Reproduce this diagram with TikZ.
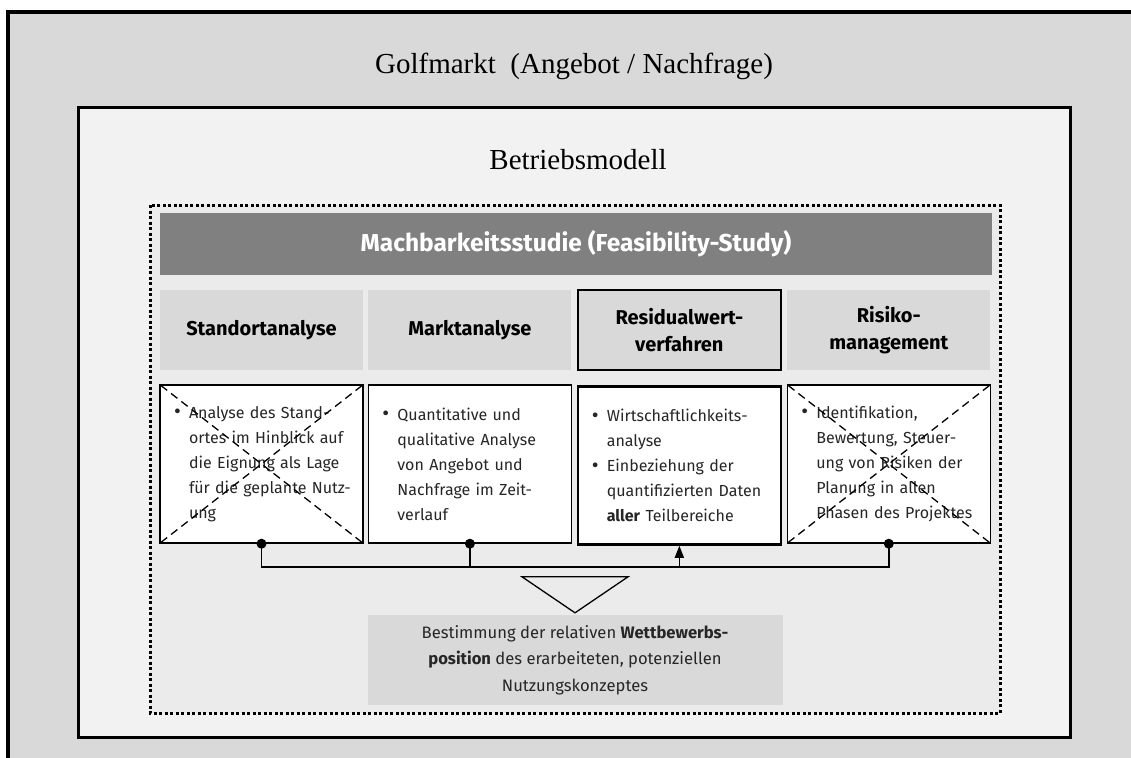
\documentclass[tikz,border=0pt]{standalone}
\usepackage{fontspec}
\setmainfont{Liberation Serif}
\setsansfont{Fira Sans}
\usetikzlibrary{positioning, arrows.meta, calc}

\newcommand{\bul}{\hspace*{7pt}\makebox[15pt][l]{\raisebox{-0.5pt}{\fontsize{21}{21}\selectfont\textbullet}}}
\newcommand{\bulpad}{\hspace*{22pt}}

\begin{document}
\begin{tikzpicture}[
		x=1pt, y=-1pt,
		>=Stealth,
		node distance=14pt and 5pt,
		market/.style={fill=black!15, draw=black, line width=4pt},
		model/.style={fill=black!5, draw=black, line width=3pt},
		study/.style={fill=black!8, draw=black, line width=3pt, dash pattern=on 3pt off 2.5pt},
		title/.style={font=\fontsize{29}{31}\selectfont},
		headbar/.style={fill=black!50, text=white, minimum width=832pt, minimum height=62pt, font=\sffamily\bfseries\fontsize{24.5}{28}\selectfont},
		area/.style={fill=black!15, minimum width=203pt, minimum height=80pt, align=center, font=\sffamily\bfseries\fontsize{20}{27}\selectfont},
		detail/.style={draw, fill=white, line width=1.5pt, minimum width=203pt, minimum height=158pt, text width=189pt, inner xsep=7pt, align=left, text=black!85, font=\sffamily\fontsize{16}{25}\selectfont},
		focus/.style={draw=black, line width=2.5pt},
		cross/.style={draw=black, line width=1.3pt, dash pattern=on 8pt off 5pt, shorten <=2pt, shorten >=2pt},
		link/.style={draw=black, line width=1.5pt},
		result/.style={fill=black!15, minimum width=415pt, minimum height=90pt, align=center, text=black!85, font=\sffamily\fontsize{16.6}{26.5}\selectfont}
		]
		
		\useasboundingbox (0,0) rectangle (1131,757);
		\clip (0,0) rectangle (1131,757);
		
		% ==========================================
		% FRAMES
		% ==========================================
		
		\path[market] (8,12) rectangle (1160,790);
		\node[title] (Golfmarkt) at (574,66) {Golfmarkt\ \ (Angebot / Nachfrage)};
		
		\path[model] (78,108) rectangle (1070,737);
		\node[title] (Betrieb) at (578,160) {Betriebsmodell};
		
		\path[study] (150,205) rectangle (1000,713);
		
		% ==========================================
		% FEASIBILITY STUDY
		% ==========================================
		
		\node[headbar] (Studie) at (576,244) {Machbarkeitsstudie (Feasibility-Study)};
		
		\node[area] (Standort) at (261.5,330) {Standortanalyse};
		\node[area, right=of Standort] (Markt) {Marktanalyse};
		\node[area, focus, right=of Markt] (Residual) {Residualwert-\\verfahren};
		\node[area, right=of Residual] (Risiko) {Risiko-\\management};
		
		\node[detail, below=of Standort] (StandortText) {
			\bul Analyse des Stand-\\
			\bulpad ortes im Hinblick auf\\
			\bulpad die Eignung als Lage\\
			\bulpad für die geplante Nutz-\\
			\bulpad ung
		};
		\node[detail, below=of Markt] (MarktText) {
			\bul Quantitative und\\
			\bulpad qualitative Analyse\\
			\bulpad von Angebot und\\
			\bulpad Nachfrage im Zeit-\\
			\bulpad verlauf
		};
		\node[detail, focus, below=of Residual] (ResidualText) {
			\bul Wirtschaftlichkeits-\\
			\bulpad analyse\\
			\bul Einbeziehung der\\
			\bulpad quantifizierten Daten\\
			\bulpad \textbf{aller} Teilbereiche
		};
		\node[detail, below=of Risiko] (RisikoText) {
			\bul Identifikation,\\
			\bulpad Bewertung, Steuer-\\
			\bulpad ung von Risiken der\\
			\bulpad Planung in allen\\
			\bulpad Phasen des Projektes
		};
		
		% crossed out
		\draw[cross] (StandortText.north west) -- (StandortText.south east);
		\draw[cross] (StandortText.south west) -- (StandortText.north east);
		\draw[cross] (RisikoText.north west) -- (RisikoText.south east);
		\draw[cross] (RisikoText.south west) -- (RisikoText.north east);
		
		% ==========================================
		% CONNECTORS
		% ==========================================
		
		\coordinate (bus) at (0,567);
		\draw[link] (StandortText.south) |- (bus -| RisikoText.south) -- (RisikoText.south);
		\draw[link] (MarktText.south) -- (MarktText.south |- bus);
		\draw[link, -{Triangle[length=12pt, width=9pt]}] (ResidualText.south |- bus) -- (ResidualText.south);
		\fill (StandortText.south) circle (5pt);
		\fill (MarktText.south) circle (5pt);
		\fill (RisikoText.south) circle (5pt);
		
		% ==========================================
		% RESULT
		% ==========================================
		
		\node[result] (Ergebnis) at (575,660) {
			Bestimmung der relativen \textbf{Wettbewerbs-}\\
			\textbf{position} des erarbeiteten, potenziellen\\
			Nutzungskonzeptes
		};
		
		\draw[link, line width=1.3pt, fill=black!8] ([xshift=-53pt, yshift=38pt]Ergebnis.north) -- ([xshift=53pt, yshift=38pt]Ergebnis.north) -- ([yshift=2pt]Ergebnis.north) -- cycle;
		
	\end{tikzpicture}
\end{document}
